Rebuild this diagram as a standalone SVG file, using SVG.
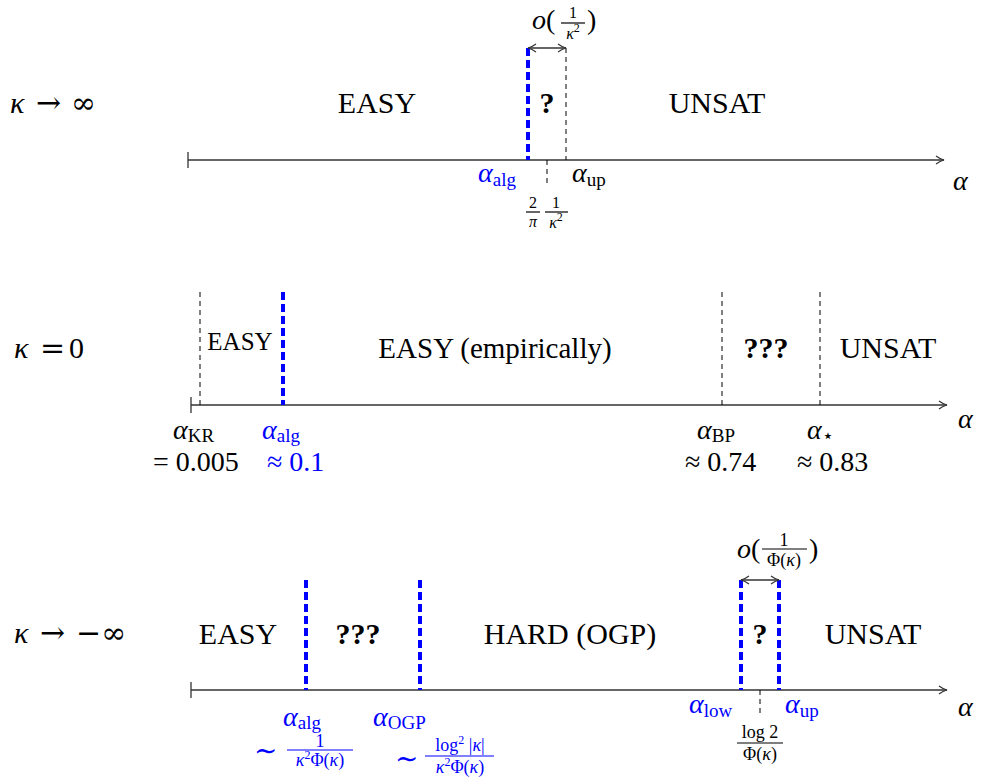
<svg xmlns="http://www.w3.org/2000/svg" width="981" height="780" viewBox="0 0 981 780">
<style>
text{font-family:"Liberation Serif","DejaVu Serif",serif;fill:#000}
.lg{font-size:30px}
.md{font-size:28px}
.sub{font-size:19px}
.fs{font-size:18px}
.ft{font-size:16px}
.sup{font-size:12px}
.it{font-style:italic}
.gk{font-family:"Liberation Serif",serif;font-style:italic}
.sym{font-family:"DejaVu Serif",serif}
.b{font-weight:bold}
.blue{fill:#0000ff}
.mid{text-anchor:middle}
.axis{stroke:#333;stroke-width:1.3;fill:none}
.dk{stroke:#000;stroke-width:1;stroke-dasharray:5 4;fill:none}
.db{stroke:#0000ff;stroke-width:4;stroke-dasharray:8 4;fill:none}
.fr{stroke:#000;stroke-width:1.2}
.frb{stroke:#0000ff;stroke-width:1.2}
</style>
<defs>
<marker id="ah" viewBox="0 0 10 10" refX="9" refY="5" markerWidth="10" markerHeight="10" markerUnits="userSpaceOnUse" orient="auto-start-reverse">
<path d="M1,1 Q5,4 9,5 Q5,6 1,9" fill="none" stroke="#333" stroke-width="1.2"/>
</marker>
</defs>

<g id="connectors">
<path class="axis" d="M188,160 H944" marker-end="url(#ah)"/>
<path class="axis" d="M188,152 V168"/>
<path class="db" d="M528,48 V160"/>
<path class="dk" d="M566,48 V160"/>
<path class="dk" d="M547,160 V186"/>
<path class="axis" d="M528,48 H566" marker-start="url(#ah)" marker-end="url(#ah)"/>
<path class="axis" d="M191,405 H947" marker-end="url(#ah)"/>
<path class="axis" d="M191,397 V413"/>
<path class="dk" d="M200,292 V405"/>
<path class="db" d="M283,292 V405"/>
<path class="dk" d="M722,292 V405"/>
<path class="dk" d="M820,292 V405"/>
<path class="axis" d="M191,690 H947" marker-end="url(#ah)"/>
<path class="axis" d="M191,682 V698"/>
<path class="db" d="M306,580 V690"/>
<path class="db" d="M420,580 V690"/>
<path class="db" d="M741,580 V690"/>
<path class="db" d="M779,580 V690"/>
<path class="dk" d="M760,690 V716"/>
<path class="axis" d="M741,580 H779" marker-start="url(#ah)" marker-end="url(#ah)"/>
</g>

<g id="top">
<text class="lg gk" x="10" y="113">κ</text>
<text class="lg sym" x="36" y="113">→</text>
<text class="lg sym" x="71" y="113">∞</text>
<text class="lg mid" x="377" y="113">EASY</text>
<text class="lg mid b" x="547" y="113">?</text>
<text class="lg mid" x="717" y="113">UNSAT</text>
<text class="md blue" x="478" y="182"><tspan class="it">α</tspan><tspan class="sub" dy="4">alg</tspan></text>
<text class="md" x="572" y="182"><tspan class="it">α</tspan><tspan class="sub" dy="4">up</tspan></text>
<text class="md it" x="953" y="190">α</text>
<g id="frac-top">
<text class="ft mid" x="533" y="208">2</text>
<line class="fr" x1="526" y1="212" x2="540" y2="212"/>
<text class="ft mid it" x="533" y="227">π</text>
<text class="ft mid" x="556" y="208">1</text>
<line class="fr" x1="545" y1="212" x2="568" y2="212"/>
<text class="ft mid" x="556" y="228"><tspan class="gk">κ</tspan><tspan class="sup" dy="-7">2</tspan></text>
</g>
<g id="o-top">
<text class="md" x="532" y="29"><tspan class="it">o</tspan>(</text>
<text class="ft mid" x="573" y="18">1</text>
<line class="fr" x1="561" y1="23" x2="585" y2="23"/>
<text class="ft mid" x="573" y="39"><tspan class="gk">κ</tspan><tspan class="sup" dy="-7">2</tspan></text>
<text class="md" x="587" y="29">)</text>
</g>
</g>

<g id="middle">
<text class="lg gk" x="14" y="358">κ</text>
<text class="lg sym" x="40" y="358">=</text>
<text class="lg" x="69" y="358">0</text>
<text class="mid" font-size="25" x="240" y="350">EASY</text>
<text class="mid" font-size="29" x="495" y="358">EASY (empirically)</text>
<text class="lg mid b" x="766" y="358">???</text>
<text class="lg mid" x="888" y="358">UNSAT</text>
<text class="md" x="173" y="439"><tspan class="it">α</tspan><tspan class="sub" dy="3">KR</tspan></text>
<text class="md" x="153" y="471">= 0.005</text>
<text class="md blue" x="262" y="439"><tspan class="it">α</tspan><tspan class="sub" dy="3">alg</tspan></text>
<text class="md blue" x="267" y="471">≈ 0.1</text>
<text class="md" x="697" y="439"><tspan class="it">α</tspan><tspan class="sub" dy="3">BP</tspan></text>
<text class="md" x="685" y="471">≈ 0.74</text>
<text class="md" x="807" y="439"><tspan class="it">α</tspan><tspan class="sub" dy="3">⋆</tspan></text>
<text class="md" x="797" y="471">≈ 0.83</text>
<text class="md it" x="958" y="428">α</text>
</g>

<g id="bottom">
<text class="lg gk" x="14" y="643">κ</text>
<text class="lg sym" x="40" y="643">→</text>
<text class="lg sym" x="76" y="643">−∞</text>
<text class="lg mid" x="238" y="644">EASY</text>
<text class="lg mid b" x="358" y="644">???</text>
<text class="lg mid" x="570" y="644">HARD (OGP)</text>
<text class="lg mid b" x="760" y="644">?</text>
<text class="lg mid" x="873" y="644">UNSAT</text>
<text class="md blue" x="283" y="726"><tspan class="it">α</tspan><tspan class="sub" dy="3">alg</tspan></text>
<text class="md blue" x="373" y="726"><tspan class="it">α</tspan><tspan class="sub" dy="3">OGP</tspan></text>
<text class="md sym blue" x="254" y="760">∼</text>
<text class="fs mid blue" x="320" y="747">1</text>
<line class="frb" x1="287" y1="750" x2="353" y2="750"/>
<text class="fs mid blue" x="320" y="766"><tspan class="gk">κ</tspan><tspan class="sup" dy="-7">2</tspan><tspan dy="7">Φ(</tspan><tspan class="gk">κ</tspan>)</text>
<text class="md sym blue" x="395" y="768">∼</text>
<text class="fs mid blue" x="460" y="751">log<tspan class="sup" dy="-7">2</tspan><tspan dy="7"> |</tspan><tspan class="gk">κ</tspan>|</text>
<line class="frb" x1="425" y1="756" x2="494" y2="756"/>
<text class="fs mid blue" x="460" y="773"><tspan class="gk">κ</tspan><tspan class="sup" dy="-7">2</tspan><tspan dy="7">Φ(</tspan><tspan class="gk">κ</tspan>)</text>
<text class="md blue" x="689" y="713"><tspan class="it">α</tspan><tspan class="sub" dy="4">low</tspan></text>
<text class="md blue" x="785" y="713"><tspan class="it">α</tspan><tspan class="sub" dy="4">up</tspan></text>
<text class="fs mid" x="760" y="738">log 2</text>
<line class="fr" x1="737" y1="743" x2="783" y2="743"/>
<text class="fs mid" x="760" y="760">Φ(<tspan class="gk">κ</tspan>)</text>
<text class="md" x="737" y="558"><tspan class="it">o</tspan>(</text>
<text class="fs mid" x="784" y="546">1</text>
<line class="fr" x1="762" y1="549" x2="807" y2="549"/>
<text class="fs mid" x="784" y="566">Φ(<tspan class="gk">κ</tspan>)</text>
<text class="md" x="809" y="558">)</text>
<text class="md it" x="958" y="716">α</text>
</g>
</svg>
